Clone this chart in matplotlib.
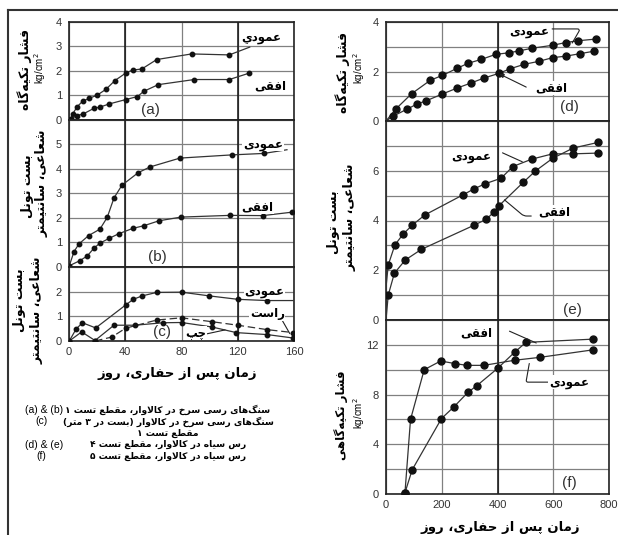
import numpy as np
import matplotlib.pyplot as plt
from matplotlib.lines import Line2D

W, H = 618, 535

# ---- left column: time (days) 0-160 ----
# (a) support pressure, kg/cm2
a_vert_x = [1.4, 2.6, 5.9, 9.7, 14.4, 20.1, 26.3, 32.7, 40.5, 45.3, 51.7, 62.4, 87.2, 114, 128.5]
a_vert_y = [0.04, 0.23, 0.53, 0.75, 0.87, 1.0, 1.24, 1.6, 1.91, 2.03, 2.07, 2.46, 2.69, 2.65, 2.97]
a_horz_x = [1.4, 5.9, 10.2, 17.8, 22, 28.7, 40.5, 48.6, 53.3, 63.5, 89.1, 114, 128]
a_horz_y = [0.04, 0.16, 0.23, 0.46, 0.51, 0.64, 0.82, 0.94, 1.16, 1.43, 1.64, 1.64, 1.9]

# (b) radial tunnel convergence, cm
b_vert_x = [0.2, 3.6, 7.1, 14, 22, 27.2, 32, 37.7, 49.3, 57.6, 78.9, 115.7, 138.7, 155]
b_vert_y = [0.05, 0.63, 0.94, 1.28, 1.54, 2.02, 2.81, 3.33, 3.84, 4.07, 4.43, 4.56, 4.62, 4.77]
b_horz_x = [0.2, 7.8, 13, 17.8, 22, 28.7, 35.3, 45.3, 53.3, 64, 79.6, 114.5, 137.7, 158.6]
b_horz_y = [0.05, 0.26, 0.45, 0.77, 0.97, 1.17, 1.35, 1.57, 1.68, 1.88, 2.03, 2.1, 2.09, 2.23]

# (c) radial tunnel convergence, cm
c_vert_x = [0.2, 5, 9.5, 19, 40.3, 45.7, 52.1, 62.4, 80, 99.6, 120, 140.6, 160]
c_vert_y = [0, 0.48, 0.74, 0.53, 1.46, 1.69, 1.83, 1.97, 1.98, 1.83, 1.69, 1.64, 1.64]
c_right_x = [18.5, 30.4, 40.3, 62.4, 80, 102, 120, 141, 159.5]
c_right_y = [0, 0.16, 0.52, 0.85, 0.94, 0.78, 0.64, 0.46, 0.34]
c_left_x = [0.2, 9, 18.5, 32, 47, 67, 80, 101.5, 119, 141, 159.5]
c_left_y = [0, 0.37, 0.02, 0.64, 0.64, 0.74, 0.75, 0.57, 0.34, 0.26, 0.12]

# ---- right column: time (days) 0-800 ----
# (d) support pressure, kg/cm2
d_vert_x = [0, 35.7, 91.7, 159.5, 202, 255, 294, 342, 393, 443, 476, 524, 598, 645, 687, 752]
d_vert_y = [0, 0.49, 1.1, 1.65, 1.84, 2.13, 2.33, 2.49, 2.69, 2.76, 2.83, 2.94, 3.06, 3.17, 3.24, 3.31]
d_horz_x = [0, 26, 76, 110, 145, 202, 255, 306, 350, 404, 445, 496, 548, 598, 645, 696, 746]
d_horz_y = [0, 0.2, 0.48, 0.68, 0.82, 1.09, 1.33, 1.54, 1.73, 1.92, 2.11, 2.29, 2.41, 2.56, 2.62, 2.72, 2.82]

# (e) radial tunnel convergence, cm
e_vert_x = [0, 8, 32, 62, 95, 139, 276, 314, 354, 413, 455, 524, 598, 671, 761]
e_vert_y = [1.3, 2.21, 3.02, 3.46, 3.82, 4.22, 5.03, 5.26, 5.47, 5.7, 6.17, 6.47, 6.68, 6.68, 6.71]
e_horz_x = [0, 8, 30, 69, 127, 314, 360, 389, 405, 493, 536, 598, 671, 761]
e_horz_y = [0, 1.0, 1.88, 2.41, 2.84, 3.8, 4.05, 4.36, 4.59, 5.54, 5.99, 6.5, 6.91, 7.14]

# (f) support pressure, kg/cm2
f_vert_x = [68, 88, 137, 196, 246, 290, 351, 461, 554, 743]
f_vert_y = [0.1, 6.0, 10.0, 10.7, 10.5, 10.35, 10.35, 10.76, 11.0, 11.6]
f_horz_x = [68, 94, 199, 244, 294, 326, 400, 461, 502, 743]
f_horz_y = [0.1, 1.95, 6.07, 7.02, 8.18, 8.72, 10.1, 11.4, 12.2, 12.46]

# ---- texts ----
LBL_PRESSURE = "فشار تکیه\u200cگاه"
LBL_PRESSURE_F = "فشار تکیه\u200cگاهی"
LBL_UNIT = "kg/cm$^2$"
LBL_SETTLE_1 = "بست تونل"
LBL_SETTLE_2 = "شعاعی، سانتیمتر"
LBL_TIME = "زمان پس از حفاری، روز"
VERT = "عمودی"
VERT_A = "عمودي"
HORZ = "افقی"
RIGHT = "راست"
LEFT = "چپ"
NOTE_TAGS = ["(a) & (b)", "(c)", "", "(d) & (e)", "(f)"]
NOTE_ROWS = ["سنگ\u200cهای رسی سرخ در کالاوار، مقطع تست ۱",
             "سنگ\u200cهای رسی سرخ در کالاوار (بست در ۳ متر)",
             "مقطع تست ۱",
             "رس سیاه در کالاوار، مقطع تست ۴",
             "رس سیاه در کالاوار، مقطع تست ۵"]

# isolated, final, initial, medial (two forms only for right-joining letters)
FORMS = {
    '\u0628': (0xFE8F, 0xFE90, 0xFE91, 0xFE92),
    '\u067E': (0xFB56, 0xFB57, 0xFB58, 0xFB59),
    '\u062A': (0xFE95, 0xFE96, 0xFE97, 0xFE98),
    '\u062D': (0xFEA1, 0xFEA2, 0xFEA3, 0xFEA4),
    '\u062E': (0xFEA5, 0xFEA6, 0xFEA7, 0xFEA8),
    '\u0686': (0xFB7A, 0xFB7B, 0xFB7C, 0xFB7D),
    '\u0633': (0xFEB1, 0xFEB2, 0xFEB3, 0xFEB4),
    '\u0634': (0xFEB5, 0xFEB6, 0xFEB7, 0xFEB8),
    '\u0637': (0xFEC1, 0xFEC2, 0xFEC3, 0xFEC4),
    '\u0639': (0xFEC9, 0xFECA, 0xFECB, 0xFECC),
    '\u0641': (0xFED1, 0xFED2, 0xFED3, 0xFED4),
    '\u0642': (0xFED5, 0xFED6, 0xFED7, 0xFED8),
    '\u0643': (0xFED9, 0xFEDA, 0xFEDB, 0xFEDC),
    '\u06A9': (0xFB8E, 0xFB8F, 0xFB90, 0xFB91),
    '\u06AF': (0xFB92, 0xFB93, 0xFB94, 0xFB95),
    '\u0644': (0xFEDD, 0xFEDE, 0xFEDF, 0xFEE0),
    '\u0645': (0xFEE1, 0xFEE2, 0xFEE3, 0xFEE4),
    '\u0646': (0xFEE5, 0xFEE6, 0xFEE7, 0xFEE8),
    '\u0647': (0xFEE9, 0xFEEA, 0xFEEB, 0xFEEC),
    '\u06CC': (0xFBFC, 0xFBFD, 0xFBFE, 0xFBFF),
    '\u064A': (0xFEF1, 0xFEF2, 0xFEF3, 0xFEF4),
    '\u0627': (0xFE8D, 0xFE8E),
    '\u062F': (0xFEA9, 0xFEAA),
    '\u0631': (0xFEAD, 0xFEAE),
    '\u0632': (0xFEAF, 0xFEB0),
    '\u0648': (0xFEED, 0xFEEE),
}


def shape(text):
    """
    Join Persian letters into their contextual forms and put them
    in visual (right to left) order, since matplotlib does not do it
    """
    out = []
    i = 0
    while i < len(text):
        ch = text[i]
        if ch not in FORMS:
            out.append(ch)
            i += 1
            continue
        prev = text[i - 1] if i > 0 else ''
        joins_prev = prev in FORMS and len(FORMS[prev]) == 4
        if ch == '\u0644' and i + 1 < len(text) and text[i + 1] == '\u0627':
            out.append(chr(0xFEFC if joins_prev else 0xFEFB))
            i += 2
            continue
        nxt = text[i + 1] if i + 1 < len(text) else ''
        forms = FORMS[ch]
        joins_next = len(forms) == 4 and nxt in FORMS
        if joins_prev and joins_next:
            out.append(chr(forms[3]))
        elif joins_prev:
            out.append(chr(forms[1]))
        elif joins_next:
            out.append(chr(forms[2]))
        else:
            out.append(chr(forms[0]))
        i += 1
    s = ''.join(out).replace('\u200c', '')
    return s[::-1].translate(str.maketrans('()', ')('))


def ftext(fig, px, py, s, **kw):
    """
    Text placed with pixel coordinates of the figure (from the top left)
    """
    fig.text(px / W, 1 - py / H, s, **kw)


def persian(fig, px, py, s, size=9, **kw):
    ftext(fig, px, py, shape(s), family='DejaVu Sans', weight='bold',
          size=size, ha='center', va='center', **kw)


def add_panel(fig, box, xmax, xstep, ymax, ystep, ylabels, darks, xlabels):
    """
    Empty gridded axes at a pixel box (left, top, right, bottom)
    """
    left, top, right, bottom = box
    ax = fig.add_axes([left / W, 1 - bottom / H,
                       (right - left) / W, (bottom - top) / H])
    ax.set_xlim(0, xmax)
    ax.set_ylim(0, ymax)
    xt = np.arange(0, xmax + 1, xstep)
    ax.set_xticks(xt, [str(int(v)) for v in xt] if xlabels else [''] * len(xt))
    ax.set_yticks(np.arange(0, ymax + 0.5, ystep), ylabels)
    ax.grid(True, color='#808080', lw=0.9)
    ax.set_axisbelow(True)
    for xd in darks:
        ax.axvline(xd, color='#111111', lw=1.1, zorder=1)
    ax.tick_params(length=0, labelsize=8, labelcolor='#333333', pad=5)
    ax.tick_params(axis='x', pad=4)
    for sp in ax.spines.values():
        sp.set_linewidth(1.2)
        sp.set_color('#222222')
    return ax


def curve(ax, x, y, ms, dashed=False, markevery=None):
    ax.plot(x, y, '--' if dashed else '-', color='#333333', lw=0.9,
            dashes=(6, 3) if dashed else (None, None),
            marker='o', ms=ms, mfc='#111111', mec='#111111',
            markevery=markevery, zorder=3)


def label(ax, x, y, s, size=8.5):
    ax.text(x, y, shape(s), family='DejaVu Sans', weight='bold', size=size,
            ha='center', va='center', zorder=4,
            bbox=dict(fc='white', ec='none', pad=0.5))


def leader(ax, start, end, arrow=False, conn='arc3'):
    ax.annotate('', xy=end, xytext=start,
                arrowprops=dict(arrowstyle='-|>' if arrow else '-',
                                color='#222222', lw=0.8, mutation_scale=6,
                                shrinkA=0, shrinkB=0, connectionstyle=conn))


def main():
    plt.rcParams['font.family'] = ['Liberation Sans', 'DejaVu Sans']
    fig = plt.figure(figsize=(W / 100, H / 100), dpi=100)

    lx = (69, 294)
    rx = (386, 609)
    ax_a = add_panel(fig, (lx[0], 22, lx[1], 119.5), 160, 40, 4, 1,
                     ['0', '1', '2', '3', '4'], [40, 120], False)
    ax_b = add_panel(fig, (lx[0], 119.5, lx[1], 267), 160, 40, 6, 1,
                     ['0', '1', '2', '3', '4', '5', ''], [40, 120], False)
    ax_c = add_panel(fig, (lx[0], 267, lx[1], 341), 160, 40, 3, 1,
                     ['0', '1', '2', ''], [40, 120], True)
    ax_d = add_panel(fig, (rx[0], 22, rx[1], 121), 800, 200, 4, 1,
                     ['0', '', '2', '', '4'], [400], False)
    ax_e = add_panel(fig, (rx[0], 121, rx[1], 320), 800, 200, 8, 1,
                     ['0', '', '2', '', '4', '', '6', '', ''], [400], False)
    ax_f = add_panel(fig, (rx[0], 320, rx[1], 494), 800, 200, 14, 2,
                     ['0', '', '4', '', '8', '', '12', ''], [400], True)

    small, big = 3.2, 5
    curve(ax_a, a_vert_x, a_vert_y, small, markevery=slice(None, -1))
    curve(ax_a, a_horz_x, a_horz_y, small)
    curve(ax_b, b_vert_x, b_vert_y, small, markevery=slice(None, -1))
    curve(ax_b, b_horz_x, b_horz_y, small)
    curve(ax_c, c_vert_x, c_vert_y, small, markevery=slice(None, -1))
    curve(ax_c, c_right_x, c_right_y, small, dashed=True)
    curve(ax_c, c_left_x, c_left_y, small)
    curve(ax_d, d_vert_x, d_vert_y, big, markevery=slice(1, None))
    curve(ax_d, d_horz_x, d_horz_y, big, markevery=slice(1, None))
    curve(ax_e, e_vert_x, e_vert_y, big, markevery=slice(1, None))
    curve(ax_e, e_horz_x, e_horz_y, big, markevery=slice(1, None))
    curve(ax_f, f_vert_x, f_vert_y, big)
    curve(ax_f, f_horz_x, f_horz_y, big)

    # curve names and leaders
    label(ax_a, 137, 3.38, VERT_A)
    label(ax_a, 143, 1.37, HORZ)
    label(ax_b, 138, 5.0, VERT)
    label(ax_b, 134, 2.46, HORZ)
    label(ax_c, 139, 2.0, VERT)
    label(ax_c, 141, 1.1, RIGHT)
    label(ax_c, 90, 0.33, LEFT)
    leader(ax_c, (151, 0.9), (157, 0.3))
    leader(ax_c, (98, 0.29), (111, 0.45))
    label(ax_d, 514, 3.6, VERT)
    leader(ax_d, (596, 3.72), (668, 3.15), conn='angle,angleA=0,angleB=60,rad=3')
    label(ax_d, 593, 1.33, HORZ)
    leader(ax_d, (503, 1.37), (407, 1.9), arrow=True)
    label(ax_e, 307, 6.56, VERT)
    leader(ax_e, (418, 6.72), (489, 6.36))
    label(ax_e, 603, 4.35, HORZ)
    leader(ax_e, (521, 4.18), (425, 4.83), conn='angle,angleA=0,angleB=-40,rad=3')
    label(ax_f, 325, 12.95, HORZ)
    leader(ax_f, (443, 13.1), (539, 12.15))
    label(ax_f, 657, 9.0, VERT)
    leader(ax_f, (582, 9.0), (514, 10.5), conn='angle,angleA=0,angleB=80,rad=2')

    for ax, tag, xy in [(ax_a, '(a)', (57.6, 0.39)), (ax_b, '(b)', (62.6, 0.41)),
                        (ax_c, '(c)', (66, 0.37)), (ax_d, '(d)', (657, 0.57)),
                        (ax_e, '(e)', (668, 0.4)), (ax_f, '(f)', (657, 0.9))]:
        ax.text(xy[0], xy[1], tag, size=11, color='#333333',
                ha='center', va='center', zorder=4)

    # axis titles
    persian(fig, 25, 70, LBL_PRESSURE, rotation=90)
    ftext(fig, 40, 68, LBL_UNIT, size=7, rotation=90, ha='center', va='center')
    persian(fig, 27, 186, LBL_SETTLE_1, rotation=90)
    persian(fig, 42, 183, LBL_SETTLE_2, rotation=90)
    persian(fig, 19, 300, LBL_SETTLE_1, rotation=90)
    persian(fig, 37, 310, LBL_SETTLE_2, rotation=90)
    persian(fig, 177, 373, LBL_TIME, size=9.5)
    persian(fig, 343, 72, LBL_PRESSURE, rotation=90)
    ftext(fig, 359, 68, LBL_UNIT, size=7, rotation=90, ha='center', va='center')
    persian(fig, 334, 222, LBL_SETTLE_1, rotation=90)
    persian(fig, 350, 217, LBL_SETTLE_2, rotation=90)
    persian(fig, 341, 415, LBL_PRESSURE_F, size=8.5, rotation=90)
    ftext(fig, 359, 413, LBL_UNIT, size=7, rotation=90, ha='center', va='center')
    persian(fig, 500, 527, LBL_TIME, size=9.5)

    # notes under the left column
    rows_y = [410, 421.5, 433, 444.5, 456]
    tags_x = [25, 35, 0, 25, 36]
    for tag, row, px, py in zip(NOTE_TAGS, NOTE_ROWS, tags_x, rows_y):
        if tag:
            ftext(fig, px, py, tag, size=7.5, ha='left', va='center')
        persian(fig, 168, py, row, size=6.6)

    # frame round the figure
    fig.add_artist(Line2D([8 / W, 1], [1 - 10 / H] * 2, transform=fig.transFigure,
                          color='#333333', lw=1.5))
    fig.add_artist(Line2D([8 / W] * 2, [0, 1 - 10 / H], transform=fig.transFigure,
                          color='#333333', lw=1.5))

    fig.savefig('out.png', dpi=100)


if __name__ == "__main__":
    main()
